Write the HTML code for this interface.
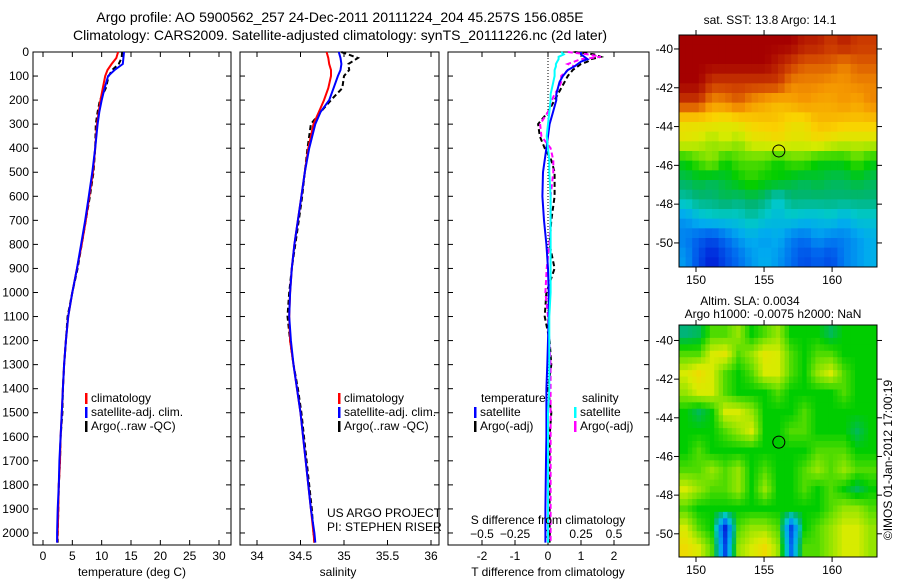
<!DOCTYPE html>
<html><head><meta charset="utf-8"><style>
body{margin:0;background:#fff}
svg{display:block;font-family:"Liberation Sans",sans-serif;font-size:12px}
</style></head><body>
<svg id="s" width="900" height="580" viewBox="0 0 900 580" xmlns="http://www.w3.org/2000/svg">
<rect width="900" height="580" fill="#fff"/>
<text x="340" y="22" text-anchor="middle" font-size="14">Argo profile: AO 5900562_257 24-Dec-2011 20111224_204 45.257S 156.085E</text>
<text x="340" y="40" text-anchor="middle" font-size="14">Climatology: CARS2009. Satellite-adjusted climatology: synTS_20111226.nc (2d later)</text>
<g id="g"></g>
</svg>
<script>
// ---- data ----
const depthTS=[0,25,50,75,100,150,200,250,300,400,500,600,700,800,900,1000,1100,1200,1300,1400,1500,1600,1700,1800,1900,2000,2040];
const tempClim=[12.8,12.5,11.7,11.0,10.6,10.2,9.8,9.5,9.2,8.9,8.5,7.9,7.3,6.6,5.8,5.0,4.3,3.9,3.6,3.4,3.2,3.0,2.9,2.7,2.6,2.5,2.4];
const tempSat=[13.8,13.7,13.6,12.2,11.1,10.5,10.0,9.6,9.3,8.9,8.4,7.8,7.2,6.5,5.8,5.0,4.3,3.9,3.6,3.4,3.2,3.0,2.8,2.7,2.5,2.4,2.4];
const tempArgo=[13.5,13.4,12.9,11.8,11.2,10.7,9.7,9.3,9.0,8.9,8.6,8.0,7.3,6.6,5.9,5.0,4.2,3.9,3.6,3.4,3.3,3.0,2.9,2.7,2.6,2.5,2.5];
const salClim=[34.80,34.82,34.83,34.85,34.85,34.82,34.77,34.71,34.65,34.59,34.55,34.51,34.47,34.43,34.40,34.38,34.37,34.38,34.42,34.46,34.50,34.53,34.56,34.59,34.62,34.65,34.66];
const salSat=[34.94,34.96,34.97,34.96,34.93,34.88,34.83,34.73,34.67,34.60,34.55,34.51,34.47,34.43,34.40,34.38,34.37,34.39,34.42,34.46,34.50,34.53,34.56,34.59,34.62,34.66,34.67];
const salArgo=[34.97,35.16,35.05,35.06,35.00,34.98,34.85,34.73,34.62,34.58,34.55,34.52,34.48,34.44,34.40,34.37,34.35,34.38,34.42,34.47,34.51,34.54,34.57,34.60,34.63,34.65,34.66];
const depthD=[0,10,20,30,40,50,60,75,100,125,150,175,200,250,300,350,400,450,500,600,700,800,900,1000,1100,1200,1300,1400,1500,1600,1700,1800,1900,2000,2040];
const dTsat=[1.0,1.0,1.1,1.2,1.0,0.9,0.8,0.6,0.45,0.35,0.3,0.25,0.25,0.15,0.05,0.0,-0.05,-0.1,-0.15,-0.17,-0.12,-0.05,0,0.02,0.02,0,-0.02,-0.05,-0.05,-0.05,-0.06,-0.07,-0.08,-0.08,-0.08];
const dTargo=[0.8,1.4,1.6,1.3,1.2,1.0,0.9,0.75,0.6,0.5,0.4,0.3,0.2,0.0,-0.3,-0.25,-0.1,0.1,0.2,0.2,0.1,0.05,0.2,-0.05,-0.1,0.05,0.1,0,0.1,0.05,0.05,0.05,0.05,0.05,0.05];
const dSsat=[0.1,0.12,0.08,0.08,0.07,0.06,0.06,0.05,0.05,0.04,0.03,0.02,0.02,0.01,0,-0.01,0,0.01,0.01,0.02,0.02,0.02,0.02,0.02,0.01,0.01,0.01,0.01,0,0,0,0,0,0,0];
const dSargo=[0.15,0.3,0.4,0.25,0.2,0.15,0.2,0.15,0.1,0.1,0.08,0.05,0.03,0.0,-0.06,-0.05,0.02,0.04,0.04,0.02,0.02,0.01,-0.01,-0.02,0,0.01,0.02,0.02,0.02,0.02,0.02,0.02,0.02,0.02,0.02];
const depthTicks=[0,100,200,300,400,500,600,700,800,900,1000,1100,1200,1300,1400,1500,1600,1700,1800,1900,2000];
const tempTicks=[0,5,10,15,20,25,30];
const salTicks=[34,34.5,35,35.5,36];
const dTTicks=[-2,-1,0,1,2];
const dSTicks=[-0.5,-0.25,0,0.25,0.5];
const lonTicks=[150,155,160];
const latTicks=[-40,-42,-44,-46,-48,-50];
const sst=[
[1,1,1,1,1,1,1,1,1,.95,.95,.9,.95,.9,.9],
[1,1,1,1,1,1,1,.95,.9,.85,.85,.85,.8,.85,.85],
[1,1,.9,.9,.9,.9,.9,.9,.8,.8,.8,.78,.78,.8,.8],
[.9,.9,.78,.8,.85,.78,.75,.72,.75,.78,.75,.75,.78,.75,.8],
[.65,.65,.65,.62,.65,.68,.7,.7,.65,.65,.72,.72,.7,.7,.7],
[.62,.6,.55,.6,.55,.62,.62,.65,.62,.62,.65,.62,.6,.6,.6],
[.45,.5,.55,.45,.5,.5,.5,.45,.5,.5,.45,.45,.45,.5,.45],
[.4,.42,.4,.42,.45,.48,.45,.45,.42,.4,.42,.4,.4,.42,.4],
[.35,.38,.38,.4,.38,.4,.38,.32,.38,.38,.38,.38,.38,.38,.38],
[.25,.3,.32,.32,.32,.35,.32,.3,.32,.3,.3,.32,.28,.32,.32],
[.22,.18,.15,.2,.25,.28,.25,.28,.22,.2,.25,.22,.22,.25,.28],
[.25,.15,.08,.15,.2,.25,.28,.25,.2,.15,.18,.15,.22,.25,.28]];
const sla=[
[.38,.4,.5,.5,.55,.45,.5,.55,.45,.45,.45,.4,.45,.45,.45],
[.5,.5,.6,.62,.5,.55,.62,.6,.5,.45,.5,.5,.45,.45,.45],
[.6,.65,.6,.5,.45,.5,.6,.6,.5,.45,.55,.6,.5,.45,.45],
[.55,.6,.6,.5,.45,.45,.45,.5,.45,.45,.45,.45,.5,.45,.45],
[.45,.4,.45,.6,.6,.55,.45,.45,.45,.5,.45,.45,.45,.45,.45],
[.45,.45,.45,.5,.55,.6,.45,.45,.5,.5,.45,.45,.45,.4,.45],
[.45,.5,.45,.45,.45,.45,.45,.45,.45,.45,.5,.5,.5,.45,.45],
[.5,.5,.55,.5,.55,.45,.5,.45,.45,.5,.55,.5,.55,.5,.5],
[.6,.55,.5,.5,.55,.45,.55,.45,.45,.5,.45,.5,.45,.4,.45],
[.5,.45,.45,.45,.45,.45,.45,.45,.45,.45,.45,.5,.55,.55,.5],
[.6,.5,.45,.1,.5,.55,.55,.5,.15,.45,.5,.55,.6,.6,.55],
[.65,.6,.5,.15,.55,.6,.65,.55,.2,.5,.5,.55,.6,.6,.55]];
const floatPos=[156.085,-45.257];

// ---- helpers ----
const NS='http://www.w3.org/2000/svg';const G=document.getElementById('g');
function el(t,a,p){const e=document.createElementNS(NS,t);for(const k in a)e.setAttribute(k,a[k]);(p||G).appendChild(e);return e;}
function txt(x,y,s,anchor,p,fs){const e=el('text',{x:x,y:y,'text-anchor':anchor||'start','font-size':fs||12},p);e.textContent=s;return e;}
const top0=52,bot=545;
const yD=d=>top0+(d/2050)*(bot-top0);
function lin(d0,d1,r0,r1){return v=>r0+(v-d0)/(d1-d0)*(r1-r0);}
const xT=lin(0,30,43,219), xS=lin(34,36,257,431), xDT=lin(0,2,548,614), xDS=v=>xDT(v*4);
const cmapStops=[[0,[0,0,150]],[.1,[0,40,220]],[.2,[0,110,240]],[.27,[0,170,240]],[.33,[0,200,200]],[.38,[0,180,120]],[.45,[0,205,0]],[.52,[110,225,0]],[.6,[215,235,0]],[.68,[250,210,0]],[.78,[245,150,0]],[.88,[210,70,0]],[1,[165,0,0]]];
function cmap(v){v=Math.max(0,Math.min(1,v));for(let i=1;i<cmapStops.length;i++){const a=cmapStops[i-1],b=cmapStops[i];if(v<=b[0]){const t=(v-a[0])/(b[0]-a[0]);const c=a[1].map((q,k)=>Math.round(q+(b[1][k]-q)*t));return `rgb(${c[0]},${c[1]},${c[2]})`;}}return 'rgb(165,0,0)';}
function line(xs,ds,fx,col,dash,name){const pts=xs.map((v,i)=>fx(v).toFixed(1)+','+yD(ds[i]).toFixed(1)).join(' ');const e=el('polyline',{points:pts,fill:'none',stroke:col,'stroke-width':2,'stroke-dasharray':dash||'none'});}
function frame(x0,x1,name,depthLabels){const r=el('rect',{x:x0,y:top0,width:x1-x0,height:bot-top0,fill:'none',stroke:'#000'});
 depthTicks.forEach(d=>{el('line',{x1:x0,x2:x0+5,y1:yD(d),y2:yD(d),stroke:'#000'});el('line',{x1:x1,x2:x1-5,y1:yD(d),y2:yD(d),stroke:'#000'});
  if(depthLabels){const t=txt(x0-4,yD(d)+4,String(d),'end');}});}
function xticks(ticks,fx,x0,x1,yLab){ticks.forEach(v=>{const x=fx(v);el('line',{x1:x,x2:x,y1:bot,y2:bot-5,stroke:'#000'});el('line',{x1:x,x2:x,y1:top0,y2:top0+5,stroke:'#000'});const t=txt(x,yLab,String(v),'middle');});}
function legend(x,y,items){items.forEach((it,i)=>{el('rect',{x:x,y:y+i*14-9,width:2.5,height:11,fill:it[1]});const t=txt(x+6,y+i*14,it[0]);});}

// Panel 1 temperature
frame(33,231,'temperature-panel',true);
xticks(tempTicks,xT,33,231,560);
line(tempArgo,depthTS,xT,'#000','5,3','argo-temperature-line');
line(tempClim,depthTS,xT,'#f00',null,'climatology-temperature-line');
line(tempSat,depthTS,xT,'#00f',null,'satellite-temperature-line');
txt(132,576,'temperature (deg C)','middle');
legend(85,402,[['climatology','#f00'],['satellite-adj. clim.','#00f'],['Argo(..raw -QC)','#000']]);

// Panel 2 salinity
frame(240,439,'salinity-panel',false);
xticks(salTicks,xS,240,439,560);
line(salArgo,depthTS,xS,'#000','5,3','argo-salinity-line');
line(salClim,depthTS,xS,'#f00',null,'climatology-salinity-line');
line(salSat,depthTS,xS,'#00f',null,'satellite-salinity-line');
txt(338,576,'salinity','middle');
legend(338,402,[['climatology','#f00'],['satellite-adj. clim.','#00f'],['Argo(..raw -QC)','#000']]);
txt(327,517,'US ARGO PROJECT');
txt(327,531,'PI: STEPHEN RISER');

// Panel 3 differences
frame(448,649,'difference-panel',false);
xticks(dTTicks,xDT,448,649,560);
dSTicks.forEach(v=>{const t=txt(xDS(v),538,String(v).replace('-','\u2212'),'middle');});
el('line',{x1:xDT(0),x2:xDT(0),y1:top0,y2:bot,stroke:'#000','stroke-dasharray':'1,2'});
line(dTargo,depthD,xDT,'#000','5,3','argo-temperature-diff-line');
line(dSargo,depthD,xDS,'#f0f','5,3','argo-salinity-diff-line');
line(dTsat,depthD,xDT,'#00f',null,'satellite-temperature-diff-line');
line(dSsat,depthD,xDS,'#0ff',null,'satellite-salinity-diff-line');
txt(481,402,'temperature');
txt(582,402,'salinity');
legend(474,416,[['satellite','#00f'],['Argo(-adj)','#000']]);
legend(574,416,[['satellite','#0ff'],['Argo(-adj)','#f0f']]);
txt(548,524,'S difference from climatology','middle');
txt(548,576,'T difference from climatology','middle');

// bilinear upsample of a grid (display smoothing)
function upsample(grid,f){const nr=grid.length,nc=grid[0].length,out=[];
 for(let r=0;r<nr*f;r++){const row=[];const fr=Math.min(nr-1,Math.max(0,(r+0.5)/f-0.5));const r0=Math.floor(fr),r1=Math.min(nr-1,r0+1),tr=fr-r0;
  for(let c=0;c<nc*f;c++){const fc=Math.min(nc-1,Math.max(0,(c+0.5)/f-0.5));const c0=Math.floor(fc),c1=Math.min(nc-1,c0+1),tc=fc-c0;
   row.push((grid[r0][c0]*(1-tc)+grid[r0][c1]*tc)*(1-tr)+(grid[r1][c0]*(1-tc)+grid[r1][c1]*tc)*tr);}
  out.push(row);}return out;}

// Maps
function map(grid,y0,y1,latTop,latBot,name){const x0=679,x1=877,lonL=148.75,lonR=163.3;
 const fx=lin(lonL,lonR,x0,x1),fy=lin(latTop,latBot,y0,y1);const nr=grid.length,nc=grid[0].length;
 const cw=(x1-x0)/nc,ch=(y1-y0)/nr;
 const g=el('g',{});
 grid.forEach((row,r)=>row.forEach((v,c)=>{const e=el('rect',{x:x0+c*cw,y:y0+r*ch,width:cw+0.5,height:ch+0.5,fill:cmap(v)},g);}));
 el('rect',{x:x0,y:y0,width:x1-x0,height:y1-y0,fill:'none',stroke:'#000'});
 lonTicks.forEach(v=>{const x=fx(v);el('line',{x1:x,x2:x,y1:y0,y2:y0-5,stroke:'#000'});el('line',{x1:x,x2:x,y1:y1,y2:y1+5,stroke:'#000'});const t=txt(x,y1+17,String(v),'middle');});
 latTicks.forEach(v=>{const y=fy(v);el('line',{x1:x0,x2:x0-5,y1:y,y2:y,stroke:'#000'});el('line',{x1:x1,x2:x1+5,y1:y,y2:y,stroke:'#000'});const t=txt(x0-6,y+4,String(v),'end');});
 const c=el('circle',{cx:fx(floatPos[0]),cy:fy(floatPos[1]),r:6,fill:'none',stroke:'#000'});}
map(upsample(sst,2),35,267,-39.28,-51.24,'sst-map');
map(upsample(sla,3),325,557,-39.2,-51.2,'sla-map');
txt(770,24,'sat. SST: 13.8 Argo: 14.1','middle');
txt(750,305,'Altim. SLA: 0.0034','middle');
txt(773,318,'Argo h1000: -0.0075 h2000: NaN','middle');
const cr=txt(0,0,'©IMOS 01-Jan-2012 17:00:19','middle');cr.setAttribute('transform','translate(892,460) rotate(-90)');


</script>
</body></html>
